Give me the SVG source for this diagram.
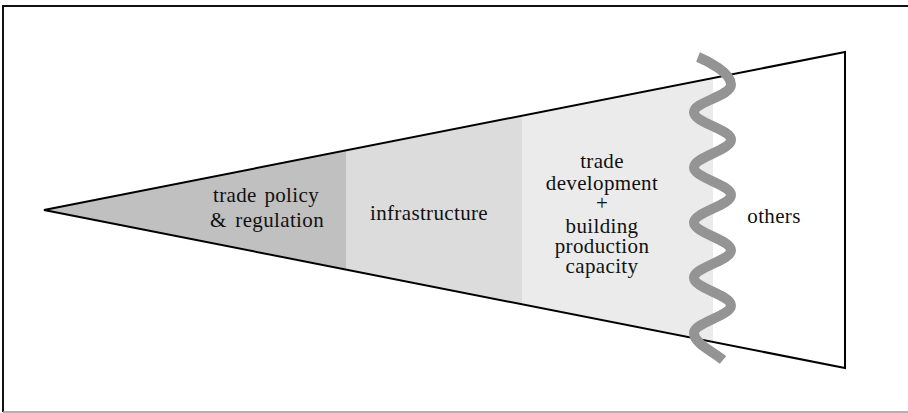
<svg xmlns="http://www.w3.org/2000/svg" width="908" height="413" viewBox="0 0 908 413">
<style>
.t{font-family:"Liberation Serif","Times New Roman",serif;font-size:21px;letter-spacing:0.35px;fill:#111}
.m{text-anchor:middle}
.e{text-anchor:end}
</style>
<rect x="0" y="0" width="908" height="413" fill="#ffffff"/>
<g id="frame">
<line x1="2" y1="6" x2="908" y2="6" stroke="#111" stroke-width="2"/>
<line x1="3" y1="5" x2="3" y2="412" stroke="#111" stroke-width="2"/>
<line x1="3" y1="412" x2="908" y2="412" stroke="#999" stroke-width="1.5"/>
</g>
<g id="policy">
<polygon points="44,210 346,150.4 346,269.6" fill="#c0c0c0"/>
<text class="t" x="213" y="202">trade</text>
<text class="t e" x="319" y="202">policy</text>
<text class="t" x="210" y="227">&amp;</text>
<text class="t e" x="324" y="227">regulation</text>
</g>
<g id="infrastructure">
<polygon points="346,150.4 522,115.7 522,304.3 346,269.6" fill="#dcdcdc"/>
<text class="t m" x="429" y="220">infrastructure</text>
</g>
<g id="tradedev">
<polygon points="522,115.7 713,78 713,342 522,304.3" fill="#ebebeb"/>
<text class="t m" x="602" y="168">trade</text>
<text class="t m" x="602" y="190">development</text>
<text class="t m" x="602" y="210">+</text>
<text class="t m" x="602" y="233">building</text>
<text class="t m" x="602" y="253">production</text>
<text class="t m" x="602" y="273">capacity</text>
</g>
<g id="others">
<text class="t m" x="774" y="223">others</text>
</g>
<g id="wedge">
<polygon points="44,210 845,52 845,368" fill="none" stroke="#000" stroke-width="2" stroke-linejoin="miter"/>
</g>
<g id="connectors">
<path d="M698,57 C708,61 731,73 731,84.6 S694,101.8 694,112.2 S731,129.4 731,139.8 S694,157 694,167.4 S731,184.6 731,195 S694,212.2 694,222.6 S731,239.8 731,250.2 S694,267.4 694,277.8 S731,295 731,305.4 S694,322.6 694,333 C694,343.4 712,351 723,360" fill="none" stroke="#949494" stroke-width="10"/>
</g>
</svg>
